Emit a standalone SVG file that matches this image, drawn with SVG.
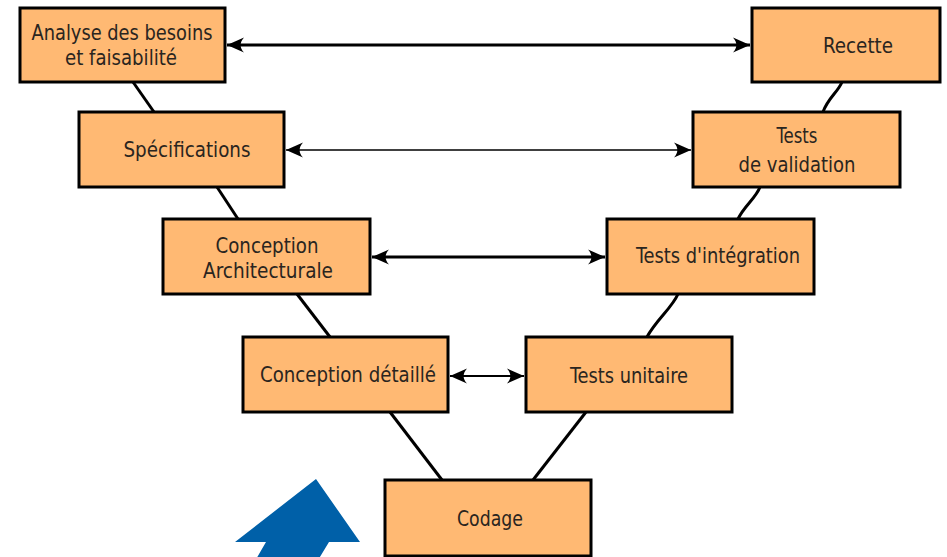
<svg xmlns="http://www.w3.org/2000/svg" width="947" height="557" viewBox="0 0 947 557">
  <style>
    .box rect { fill: #FFB973; stroke: #000; stroke-width: 3; }
    .box text { font-family: "DejaVu Sans Condensed", "DejaVu Sans", sans-serif; font-stretch: condensed; font-size: 21px; fill: #2a2520; text-anchor: middle; }
    .link { stroke: #000; stroke-width: 3; fill: none; }
    .dual { stroke: #000; fill: none; marker-start: url(#tip); marker-end: url(#tip); }
  </style>
  <defs>
    <marker id="tip" markerUnits="userSpaceOnUse" markerWidth="20" markerHeight="18" viewBox="-18 -9 19 18" refX="0" refY="0" orient="auto-start-reverse">
      <path d="M0,0 L-17,-7.5 C-12.5,-2.5 -12.5,2.5 -17,7.5 Z" fill="#000"/>
    </marker>
  </defs>

  <!-- V-model links between stages -->
  <g id="connectors">
    <line class="link" x1="133" y1="82" x2="154" y2="112"/>
    <line class="link" x1="217" y1="187" x2="238" y2="219"/>
    <line class="link" x1="297" y1="294" x2="330" y2="337"/>
    <line class="link" x1="390" y1="412" x2="442" y2="480"/>
    <path class="link" d="M842,82 C838,92 828,98 823,112"/>
    <path class="link" d="M760,187 C756,198 744,206 738,219"/>
    <path class="link" d="M678,294 C672,308 656,320 647,337"/>
    <line class="link" x1="586" y1="412" x2="533" y2="480"/>

    <!-- correspondence arrows -->
    <line class="dual" stroke-width="3" x1="227" y1="45" x2="750" y2="45"/>
    <line class="dual" stroke-width="1.6" x1="286" y1="150" x2="691" y2="150"/>
    <line class="dual" stroke-width="3" x1="372" y1="257" x2="605" y2="257"/>
    <line class="dual" stroke-width="2" x1="450" y1="376" x2="524" y2="376"/>
  </g>

  <g id="analyse" class="box">
    <rect x="20" y="8" width="205" height="74"/>
    <text x="122" y="40" textLength="181" lengthAdjust="spacingAndGlyphs">Analyse des besoins</text>
    <text x="121" y="65" textLength="112" lengthAdjust="spacingAndGlyphs">et faisabilité</text>
  </g>
  <g id="specifications" class="box">
    <rect x="79" y="112" width="205" height="75"/>
    <text x="187" y="157" textLength="127" lengthAdjust="spacingAndGlyphs">Spécifications</text>
  </g>
  <g id="conception-architecturale" class="box">
    <rect x="163" y="219" width="207" height="75"/>
    <text x="267" y="253" textLength="103" lengthAdjust="spacingAndGlyphs">Conception</text>
    <text x="268" y="278" textLength="130" lengthAdjust="spacingAndGlyphs">Architecturale</text>
  </g>
  <g id="conception-detaille" class="box">
    <rect x="243" y="337" width="205" height="75"/>
    <text x="348" y="382" textLength="176" lengthAdjust="spacingAndGlyphs">Conception détaillé</text>
  </g>
  <g id="codage" class="box">
    <rect x="385" y="480" width="206" height="76"/>
    <text x="490" y="526" textLength="66" lengthAdjust="spacingAndGlyphs">Codage</text>
  </g>
  <g id="tests-unitaire" class="box">
    <rect x="526" y="337" width="206" height="75"/>
    <text x="629" y="383" textLength="118" lengthAdjust="spacingAndGlyphs">Tests unitaire</text>
  </g>
  <g id="tests-integration" class="box">
    <rect x="607" y="219" width="207" height="75"/>
    <text x="718" y="263" textLength="164" lengthAdjust="spacingAndGlyphs">Tests d'intégration</text>
  </g>
  <g id="tests-validation" class="box">
    <rect x="693" y="112" width="207" height="75"/>
    <text x="797" y="143" textLength="41" lengthAdjust="spacingAndGlyphs">Tests</text>
    <text x="797" y="172" textLength="117" lengthAdjust="spacingAndGlyphs">de validation</text>
  </g>
  <g id="recette" class="box">
    <rect x="752" y="8" width="188" height="74"/>
    <text x="858" y="53" textLength="70" lengthAdjust="spacingAndGlyphs">Recette</text>
  </g>

  <!-- blue pointer arrow -->
  <polygon id="pointer" points="316,479 360,542 329,542 306,580 244,580 266,542 235,542" fill="#0060A8"/>
</svg>
